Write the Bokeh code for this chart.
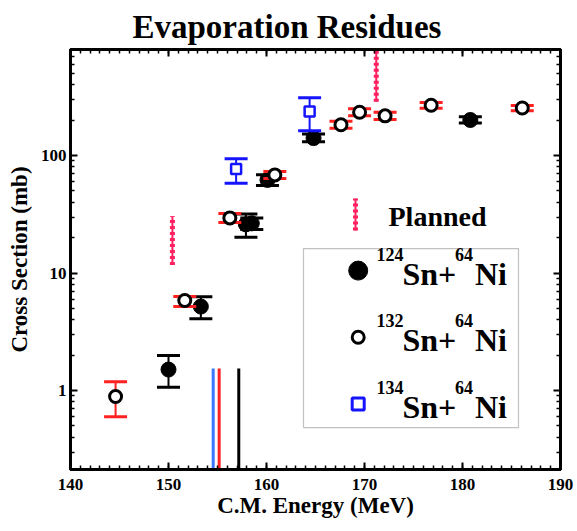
from bokeh.plotting import figure
from bokeh.models import (Range1d, SingleIntervalTicker, FixedTicker, LinearAxis, LogAxis,
                          BasicTickFormatter, Label, BoxAnnotation)
from bokeh.embed import file_html
from bokeh.resources import INLINE

FONT = "Liberation Serif"

# ---------------- data ----------------
# 124Sn + 64Ni (filled circles)
sn124_E = [150.0, 153.3, 157.9, 158.5, 160.1, 164.8, 180.8]
sn124_xs = [1.51, 5.19, 26.0, 26.5, 62.1, 141.0, 201.0]
sn124_lo = [1.07, 4.08, 20.2, 23.5, 55.6, 131.0, 189.0]
sn124_hi = [1.99, 6.30, 31.9, 29.5, 68.7, 153.0, 214.0]

# 132Sn + 64Ni (open circles)
sn132_E = [144.6, 151.66, 156.26, 160.85, 167.6, 169.5, 172.1, 176.8, 186.1]
sn132_xs = [0.89, 5.84, 29.5, 68.5, 183.0, 234.0, 218.0, 268.0, 254.0]
sn132_lo = [0.60, 5.19, 27.0, 64.0, 171.0, 218.0, 203.0, 253.0, 241.0]
sn132_hi = [1.19, 6.31, 32.1, 73.4, 196.0, 251.0, 234.0, 283.0, 267.0]

# 134Sn + 64Ni (open squares)
sn134_E = [156.9, 164.4]
sn134_xs = [77.0, 237.0]
sn134_lo = [58.2, 163.0]
sn134_hi = [93.8, 310.0]

# Planned measurements (vertical dotted bars)
plan_E = [150.4, 171.2]
plan_lo = [11.7, 288.0]
plan_hi = [30.5, 1000.0]

# Barrier markers (vertical lines from the bottom)
bar_E = [154.56, 155.17, 157.17]
bar_top = [1.54, 1.54, 1.54]
bar_bottom = [0.1, 0.1, 0.1]
bar_colors = ["#3b78ff", "#ff2020", "#000000"]

y_major = [1, 10, 100]
y_minor = [0.3, 0.4, 0.5, 0.6, 0.7, 0.8, 0.9,
           2, 3, 4, 5, 6, 7, 8, 9,
           20, 30, 40, 50, 60, 70, 80, 90,
           200, 300, 400, 500, 600, 700, 800]

legend_masses = ["124", "132", "134"]

RED = "#ff2020"
PINK = "#ff2060"
BLUE = "#1414ff"

# ---------------- figure ----------------
p = figure(width=577, height=531, x_range=Range1d(140, 190), y_range=Range1d(0.213, 800),
           y_axis_type="log", output_backend="svg", toolbar_location=None,
           min_border_left=70, min_border_right=17, min_border_top=49, min_border_bottom=62)
p.grid.visible = False
p.outline_line_color = "black"
p.outline_line_width = 3

p.title.text = "Evaporation Residues"
p.title.text_font = FONT
p.title.text_font_size = "33px"
p.title.text_font_style = "bold"
p.title.text_color = "black"
p.title.align = "left"
p.title.offset = 62
p.title.standoff = 10

xt = SingleIntervalTicker(interval=10, num_minor_ticks=10)
yt = FixedTicker(ticks=y_major, minor_ticks=y_minor)


def style_axis(ax, labels=True):
    ax.axis_line_width = 3
    ax.major_tick_in = 7
    ax.major_tick_out = 0
    ax.minor_tick_in = 4
    ax.minor_tick_out = 0
    ax.major_tick_line_width = 2
    ax.minor_tick_line_width = 1.5
    ax.major_label_text_font = FONT
    ax.major_label_text_font_style = "bold"
    ax.major_label_text_color = "black"
    ax.axis_label_text_font = FONT
    ax.axis_label_text_font_style = "bold"
    ax.axis_label_text_font_size = "23px"
    ax.axis_label_text_color = "black"
    if labels:
        ax.major_label_text_font_size = "17px"
    else:
        ax.major_label_text_font_size = "1px"
        ax.major_label_text_alpha = 0
        ax.major_label_standoff = 0


xa = p.xaxis[0]
xa.ticker = xt
style_axis(xa)
xa.major_label_standoff = 9
xa.axis_label = "C.M. Energy (MeV)"
xa.axis_label_standoff = 0

ya = p.yaxis[0]
ya.ticker = yt
ya.formatter = BasicTickFormatter()
style_axis(ya)
ya.major_label_standoff = 4
ya.axis_label = "Cross Section (mb)"
ya.axis_label_standoff = 6

top = LinearAxis(ticker=xt)
style_axis(top, labels=False)
p.add_layout(top, "above")

right = LogAxis(ticker=yt)
style_axis(right, labels=False)
p.add_layout(right, "right")

# barrier lines
for e, t, b, c in zip(bar_E, bar_top, bar_bottom, bar_colors):
    p.segment(x0=[e], y0=[b], x1=[e], y1=[t], line_color=c, line_width=3)

# planned bars
p.segment(x0=plan_E, y0=plan_lo, x1=plan_E, y1=plan_hi, line_color=PINK, line_width=2)
p.segment(x0=plan_E, y0=plan_lo, x1=plan_E, y1=plan_hi, line_color=PINK, line_width=5,
          line_dash="3 3")


def errbars(E, lo, hi, color, cap=23):
    p.segment(x0=E, y0=lo, x1=E, y1=hi, line_color=color, line_width=2)
    p.scatter(x=E, y=lo, marker="dash", size=cap, line_color=color, line_width=3)
    p.scatter(x=E, y=hi, marker="dash", size=cap, line_color=color, line_width=3)


errbars(sn124_E, sn124_lo, sn124_hi, "black")
p.scatter(x=sn124_E, y=sn124_xs, marker="circle", size=15, fill_color="black",
          line_color="black", line_width=1)

errbars(sn132_E, sn132_lo, sn132_hi, RED)
p.scatter(x=sn132_E, y=sn132_xs, marker="circle", size=12, fill_color="white",
          line_color="black", line_width=3)

errbars(sn134_E, sn134_lo, sn134_hi, BLUE)
p.scatter(x=sn134_E, y=sn134_xs, marker="square", size=10, fill_color="white",
          line_color=BLUE, line_width=2.5)


# ---------------- page-pixel helpers for the legend ----------------
def dx(px):
    return 140 + (px - 70) / 9.8


def dy(py):
    return 10 ** ((390 - py) / 117.5)


def text(x, y, s, size, align="left"):
    p.add_layout(Label(x=dx(x), y=dy(y), text=s, text_font=FONT, text_font_style="bold",
                       text_font_size=size, text_baseline="alphabetic", text_align=align,
                       text_color="black"))


p.add_layout(BoxAnnotation(left=dx(303), right=dx(518), top=dy(248), bottom=dy(427),
                           fill_alpha=0, line_color="#333333", line_width=1.2))

p.segment(x0=[dx(355)], y0=[dy(230)], x1=[dx(355)], y1=[dy(198)], line_color=PINK, line_width=2)
p.segment(x0=[dx(355)], y0=[dy(230)], x1=[dx(355)], y1=[dy(198)], line_color=PINK, line_width=5,
          line_dash="3 3")
text(388, 216, "Planned", "28px")

p.scatter(x=[dx(357.7)], y=[dy(270)], marker="circle", size=19, fill_color="black", line_color="black")
p.scatter(x=[dx(357.7)], y=[dy(336.7)], marker="circle", size=12, fill_color="white",
          line_color="black", line_width=3)
p.scatter(x=[dx(357.7)], y=[dy(403.3)], marker="square", size=12, fill_color="white",
          line_color=BLUE, line_width=3)

for i, m in enumerate(legend_masses):
    off = i * 66.7
    text(376, 253.5 + off, m, "18px")
    text(402, 273 + off, "Sn+", "32px")
    text(454.5, 253.5 + off, "64", "18px")
    text(474.5, 273 + off, "Ni", "32px")

open("out.html", "w").write(file_html(p, INLINE))
